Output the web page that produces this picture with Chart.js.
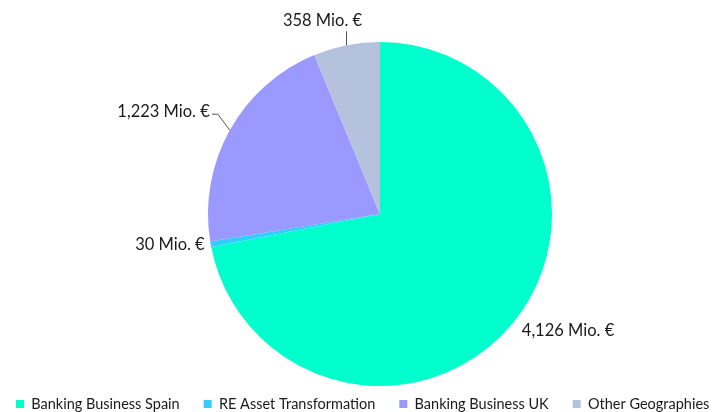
<!DOCTYPE html>
<html>
<head>
<meta charset="utf-8">
<script src="https://cdn.jsdelivr.net/npm/chart.js@4"></script>
<style>
html,body{margin:0;padding:0;background:#fff;}
#wrap{width:720px;height:412px;position:relative;}
</style>
</head>
<body>
<div id="wrap"><canvas id="c" width="720" height="412"></canvas></div>
<script>
const categories = ["Banking Business Spain", "RE Asset Transformation", "Banking Business UK", "Other Geographies"];
const values = [4126, 30, 1223, 358];
const valueLabels = ["4,126 Mio. €", "30 Mio. €", "1,223 Mio. €", "358 Mio. €"];
const colors = ["#00FFCC", "#33CCFF", "#9999FF", "#B4C2DE"];

// label layout relative to each slice's outer mid-point
const labelLayout = [
  {dx: 9, dy: 7, align: "left", line: null},
  {dx: -6, dy: 0, align: "right", line: null},
  {dx: -20, dy: -19, align: "right", line: [[-12, -16], [-18, -16]]},
  {dx: -24, dy: -25, align: "center", line: [[0, -14]]}
];

const FONT = "Lato, 'Liberation Sans', sans-serif";
const LEGEND_PAD = 24;
const LEGEND_FONT = 14.5;

const layoutPlugin = {
  id: "layoutFix",
  afterLayout(chart) {
    const ca = chart.chartArea;
    ca.left = 208; ca.right = 552; ca.top = 42; ca.bottom = 386;
    ca.width = ca.right - ca.left; ca.height = ca.bottom - ca.top;
    const lg = chart.legend;
    if (lg) {
      const shift = 404 - (lg.top + LEGEND_PAD + LEGEND_FONT / 2);
      lg.top += shift; lg.bottom += shift;
    }
  }
};

const labelPlugin = {
  id: "sliceLabels",
  afterDatasetsDraw(chart) {
    const ctx = chart.ctx;
    const meta = chart.getDatasetMeta(0);
    ctx.save();
    ctx.font = "16.5px " + FONT;
    ctx.fillStyle = "#1a1a1a";
    ctx.textBaseline = "middle";
    meta.data.forEach((arc, i) => {
      const p = arc.getProps(["x", "y", "startAngle", "endAngle", "outerRadius"], true);
      const mid = (p.startAngle + p.endAngle) / 2;
      const ax = p.x + Math.cos(mid) * p.outerRadius;
      const ay = p.y + Math.sin(mid) * p.outerRadius;
      const L = labelLayout[i];
      if (L.line) {
        ctx.strokeStyle = "#555";
        ctx.lineWidth = 1;
        ctx.beginPath();
        ctx.moveTo(ax, ay);
        L.line.forEach(pt => ctx.lineTo(ax + pt[0], ay + pt[1]));
        ctx.stroke();
      }
      ctx.textAlign = L.align;
      ctx.fillText(valueLabels[i], ax + L.dx, ay + L.dy);
    });
    ctx.restore();
  }
};

new Chart(document.getElementById("c"), {
  type: "pie",
  data: {
    labels: categories,
    datasets: [{
      data: values,
      backgroundColor: colors,
      borderWidth: 0
    }]
  },
  options: {
    responsive: false,
    animation: false,
    layout: {padding: {left: 16 - LEGEND_PAD, right: -100, top: 0, bottom: 0}},
    plugins: {
      legend: {
        position: "bottom",
        align: "start",
        labels: {
          boxWidth: 8,
          boxHeight: 8,
          padding: LEGEND_PAD,
          color: "#1a1a1a",
          font: {family: FONT, size: LEGEND_FONT}
        }
      },
      tooltip: {enabled: false}
    }
  },
  plugins: [layoutPlugin, labelPlugin]
});
</script>
</body>
</html>
